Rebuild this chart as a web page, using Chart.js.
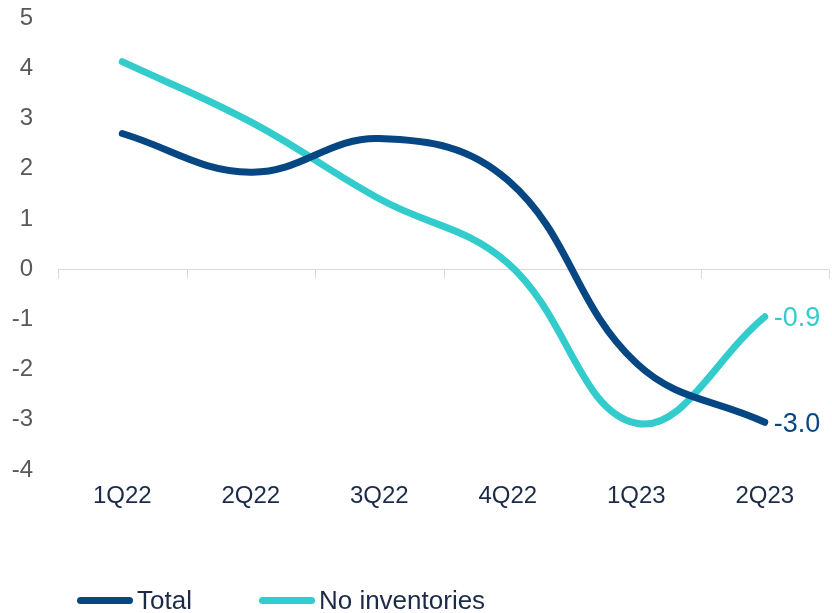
<!DOCTYPE html>
<html>
<head>
<meta charset="utf-8">
<script src="https://cdn.jsdelivr.net/npm/chart.js@4.4.1/dist/chart.umd.min.js"></script>
<style>
    html, body { margin: 0; padding: 0; background: #ffffff; }
    #wrap { width: 832px; height: 613px; position: relative; }
    #legend {
        position: absolute; left: 77px; top: 585px;
        display: flex; align-items: center;
        font-family: "Liberation Sans", Arial, sans-serif; font-size: 26px; color: #1b2a47;
    }
    .item { display: flex; align-items: center; margin-right: 67px; }
    .swatch { width: 56px; height: 7px; border-radius: 4px; margin-right: 4px; }
</style>
</head>
<body>
<div id="wrap">
    <canvas id="lineChart"></canvas>
    <div id="legend"></div>
</div>
<script>
const categories = ['1Q22', '2Q22', '3Q22', '4Q22', '1Q23', '2Q23'];
const totalValues = [2.7, 1.93, 2.6, 1.77, -1.87, -3.05];
const noInventoriesValues = [4.13, 2.93, 1.4, 0.12, -3.07, -0.95];
const lastLabels = ['-3.0', '-0.9'];
const yTicks = [-4, -3, -2, -1, 0, 1, 2, 3, 4, 5];

const colorTotal = '#064683';
const colorNoInv = '#33cccc';
const fontFamily = '"Liberation Sans", Arial, sans-serif';

// linea del cero con marcas entre categorias
const zeroAxisPlugin = {
    id: 'zeroAxis',
    beforeDatasetsDraw(chart) {
        const ctx = chart.ctx;
        const x = chart.scales.x;
        const y = chart.scales.y;
        const y0 = Math.round(y.getPixelForValue(0)) + 0.5;
        ctx.save();
        ctx.strokeStyle = '#d9d9d9';
        ctx.lineWidth = 1;
        ctx.beginPath();
        ctx.moveTo(chart.chartArea.left, y0);
        ctx.lineTo(chart.chartArea.right, y0);
        for (let i = 0; i <= categories.length; i++) {
            const px = Math.round(x.getPixelForValue(i - 0.5)) + 0.5;
            ctx.moveTo(px, y0);
            ctx.lineTo(px, y0 + 9);
        }
        ctx.stroke();
        ctx.restore();
    }
};

// etiqueta del ultimo valor de cada serie
const lastValuePlugin = {
    id: 'lastValue',
    afterDatasetsDraw(chart) {
        const ctx = chart.ctx;
        ctx.save();
        ctx.font = '27px ' + fontFamily;
        ctx.textAlign = 'left';
        ctx.textBaseline = 'middle';
        chart.data.datasets.forEach((ds, i) => {
            const meta = chart.getDatasetMeta(i);
            const last = meta.data[meta.data.length - 1];
            ctx.fillStyle = ds.borderColor;
            ctx.fillText(lastLabels[i], last.x + 9, last.y + 2);
        });
        ctx.restore();
    }
};

const ctx = document.getElementById('lineChart').getContext('2d');
const chart = new Chart(ctx, {
    type: 'line',
    data: {
        labels: categories,
        datasets: [{
            label: 'Total',
            data: totalValues,
            borderColor: colorTotal,
            backgroundColor: colorTotal,
            borderWidth: 7,
            borderCapStyle: 'round',
            pointRadius: 0,
            tension: 0.4
        }, {
            label: 'No inventories',
            data: noInventoriesValues,
            borderColor: colorNoInv,
            backgroundColor: colorNoInv,
            borderWidth: 7,
            borderCapStyle: 'round',
            pointRadius: 0,
            tension: 0.4
        }]
    },
    options: {
        responsive: true,
        maintainAspectRatio: false,
        animation: false,
        layout: {
            padding: { top: 18, right: 3, left: 10, bottom: 102 }
        },
        scales: {
            x: {
                offset: true,
                grid: { display: false, drawTicks: false },
                border: { display: false },
                ticks: {
                    color: '#1b2a47',
                    font: { size: 24, family: fontFamily },
                    padding: 12,
                    maxRotation: 0
                },
                afterFit: (scale) => {
                    scale.height = 41;
                    scale.paddingLeft = 0;
                    scale.paddingRight = 0;
                }
            },
            y: {
                min: -4,
                max: 5,
                afterBuildTicks: (scale) => {
                    scale.ticks = yTicks.map(v => ({ value: v }));
                },
                grid: { display: false, drawTicks: false },
                border: { display: false },
                ticks: {
                    color: '#595959',
                    font: { size: 24, family: fontFamily },
                    padding: 25
                },
                afterFit: (scale) => {
                    scale.width = 48;
                    scale.paddingTop = 0;
                    scale.paddingBottom = 0;
                }
            }
        },
        plugins: {
            legend: { display: false },
            tooltip: { enabled: false }
        }
    },
    plugins: [zeroAxisPlugin, lastValuePlugin]
});

// leyenda en html debajo del grafico
let legendHtml = '';
chart.data.datasets.forEach(ds => {
    legendHtml += `<div class="item"><span class="swatch" style="background:${ds.borderColor}"></span>${ds.label}</div>`;
});
document.getElementById('legend').innerHTML = legendHtml;
</script>
</body>
</html>
